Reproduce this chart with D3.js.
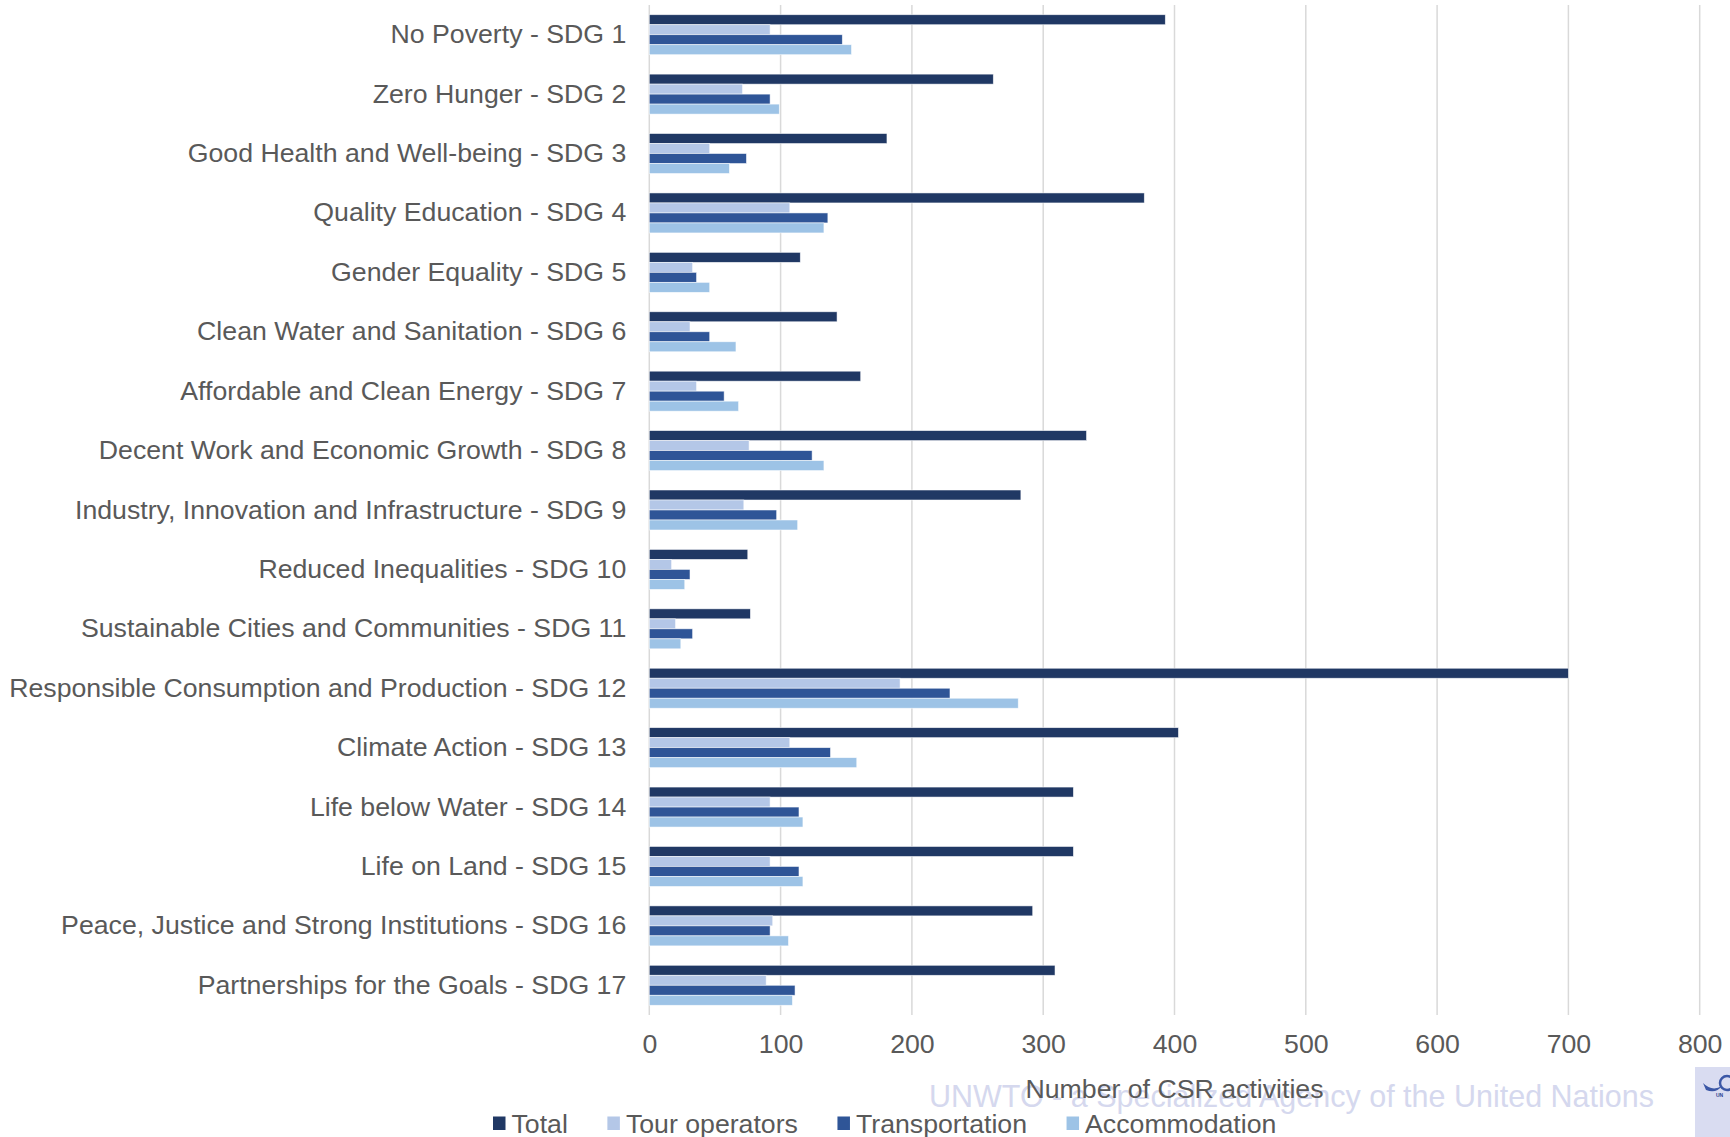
<!DOCTYPE html>
<html>
<head>
<meta charset="utf-8">
<script src="https://cdn.jsdelivr.net/npm/d3@7"></script>
<style>
  html, body { margin: 0; padding: 0; background: #fff; }
  svg { display: block; }
  text { font-family: "Liberation Sans", Arial, sans-serif; }
</style>
</head>
<body>
<svg id="chart" width="1730" height="1137"></svg>
<script>
// CSR activities per Sustainable Development Goal, by tourism sub-sector
const categories = [
  "No Poverty - SDG 1",
  "Zero Hunger - SDG 2",
  "Good Health and Well-being - SDG 3",
  "Quality Education - SDG 4",
  "Gender Equality - SDG 5",
  "Clean Water and Sanitation - SDG 6",
  "Affordable and Clean Energy - SDG 7",
  "Decent Work and Economic Growth - SDG 8",
  "Industry, Innovation and Infrastructure - SDG 9",
  "Reduced Inequalities - SDG 10",
  "Sustainable Cities and Communities - SDG 11",
  "Responsible Consumption and Production - SDG 12",
  "Climate Action - SDG 13",
  "Life below Water - SDG 14",
  "Life on Land - SDG 15",
  "Peace, Justice and Strong Institutions - SDG 16",
  "Partnerships for the Goals - SDG 17"
];
const seriesNames = ["Total", "Tour operators", "Transportation", "Accommodation"];
const total          = [393, 262, 181, 377, 115, 143, 161, 333, 283, 75, 77, 700, 403, 323, 323, 292, 309];
const tourOperators  = [ 92,  71,  46, 107,  33,  31,  36,  76,  72, 17, 20, 191, 107,  92,  92,  94,  89];
const transportation = [147,  92,  74, 136,  36,  46,  57, 124,  97, 31, 33, 229, 138, 114, 114,  92, 111];
const accommodation  = [154,  99,  61, 133,  46,  66,  68, 133, 113, 27, 24, 281, 158, 117, 117, 106, 109];
const xTicks = [0, 100, 200, 300, 400, 500, 600, 700, 800];
const axisTitle = "Number of CSR activities";
const watermarkText = "UNWTO - a Specialized Agency of the United Nations";

const seriesValues = [total, tourOperators, transportation, accommodation];
const colors = ["#203864", "#b4c7e7", "#2f5597", "#9dc3e6"];
const textColor = "#595959";
const fontSize = 26.7;

const svg = d3.select("#chart");

const plot = { left: 649.3, right: 1699.7, top: 5, bottom: 1015 };

const x = d3.scaleLinear().domain([0, 800]).range([plot.left, plot.right]);
const y = d3.scaleBand().domain(categories)
  .range([plot.top, plot.bottom])
  .paddingInner(0.327).paddingOuter(0.1635);
const ySub = d3.scaleBand().domain(seriesNames).range([0, y.bandwidth()]).padding(0);

// vertical gridlines
svg.append("g").selectAll("line")
  .data(xTicks)
  .join("line")
  .attr("x1", d => x(d)).attr("x2", d => x(d))
  .attr("y1", plot.top).attr("y2", plot.bottom)
  .attr("stroke", "#d9d9d9")
  .attr("stroke-width", 1.5);

// watermark sits behind the axis title
svg.append("text")
  .attr("x", 929).attr("y", 1107)
  .attr("font-size", 30.5)
  .attr("fill", "#d5d8ee")
  .text(watermarkText);

// grouped horizontal bars
const rows = categories.map((c, i) => ({
  category: c,
  values: seriesNames.map((s, k) => ({ series: s, value: seriesValues[k][i], k }))
}));

svg.append("g").selectAll("g")
  .data(rows)
  .join("g")
  .attr("transform", d => `translate(0,${y(d.category)})`)
  .selectAll("rect")
  .data(d => d.values)
  .join("rect")
  .attr("x", x(0))
  .attr("y", d => ySub(d.series))
  .attr("width", d => x(d.value) - x(0))
  .attr("height", ySub.bandwidth())
  .attr("fill", d => colors[d.k])
  .attr("stroke", "#ffffff")
  .attr("stroke-opacity", 0.7)
  .attr("stroke-width", 0.75);

// category axis
const yAxis = svg.append("g")
  .attr("transform", `translate(${plot.left},0)`)
  .call(d3.axisLeft(y).tickSize(0).tickPadding(23));
yAxis.select(".domain").remove();
yAxis.selectAll("text")
  .attr("font-size", fontSize)
  .attr("font-family", "Liberation Sans, Arial, sans-serif")
  .attr("fill", textColor);

// value axis
const xAxis = svg.append("g")
  .attr("transform", `translate(0,${plot.bottom})`)
  .call(d3.axisBottom(x).tickValues(xTicks).tickSize(0).tickPadding(19).tickFormat(d3.format("d")));
xAxis.select(".domain").remove();
xAxis.selectAll("text")
  .attr("font-size", fontSize)
  .attr("font-family", "Liberation Sans, Arial, sans-serif")
  .attr("fill", textColor);

// axis title
svg.append("text")
  .attr("x", (plot.left + plot.right) / 2)
  .attr("y", 1098)
  .attr("text-anchor", "middle")
  .attr("font-size", fontSize)
  .attr("fill", textColor)
  .text(axisTitle);

// legend
const legend = svg.append("g");
let lx = 493;
seriesNames.forEach((name, k) => {
  legend.append("rect")
    .attr("x", lx).attr("y", 1116.5)
    .attr("width", 12.5).attr("height", 13.5)
    .attr("fill", colors[k]);
  const t = legend.append("text")
    .attr("x", lx + 18.5).attr("y", 1132.5)
    .attr("font-size", fontSize)
    .attr("fill", textColor)
    .text(name);
  lx += 18.5 + t.node().getComputedTextLength() + 39.5;
});

// emblem tile in the corner
const logo = svg.append("g");
logo.append("rect")
  .attr("x", 1695).attr("y", 1067)
  .attr("width", 35).attr("height", 70)
  .attr("fill", "#d9dcf1");
logo.append("path")
  .attr("d", "M1703,1083 Q1712,1092 1722,1086 Q1716,1094 1706,1090 Z")
  .attr("fill", "#3b57a6");
logo.append("circle")
  .attr("cx", 1727).attr("cy", 1083).attr("r", 7)
  .attr("fill", "none").attr("stroke", "#3b57a6").attr("stroke-width", 2.5);
logo.append("text")
  .attr("x", 1716).attr("y", 1097)
  .attr("font-size", 5).attr("font-weight", "bold")
  .attr("fill", "#2a3f8f")
  .text("UN");
</script>
</body>
</html>
